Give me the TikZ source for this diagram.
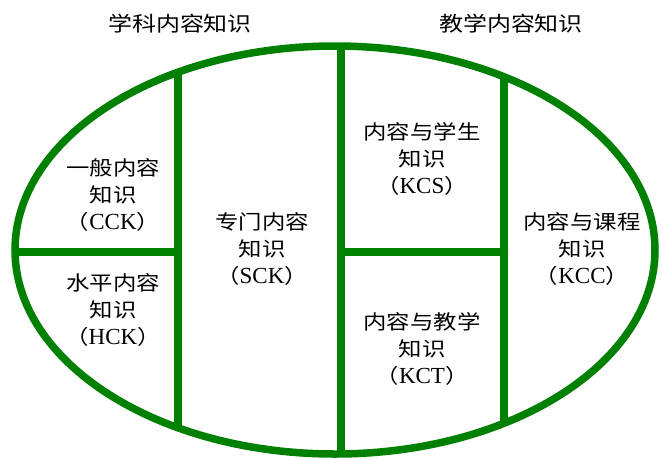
\documentclass[tikz,border=0pt]{standalone}
\usepackage{fontspec}
\setmainfont{Liberation Serif}
\newfontfamily\cjk[FakeStretch=1.17]{Noto Sans CJK SC}
\newfontfamily\latf{Liberation Serif}
\definecolor{kgreen}{RGB}{0,128,0}
\newcommand\lat[1]{{\latf\fontsize{23}{27}\selectfont #1}}
\tikzset{
  wall/.style={draw=kgreen, line width=7.5pt},
  lbl/.style={align=center, font=\cjk\fontsize{20}{27}\selectfont, inner sep=0pt, text=black},
  ttl/.style={font=\cjk\fontsize{20.5}{24}\selectfont, inner sep=0pt, text=black}
}
\begin{document}
\begin{tikzpicture}[x=1pt,y=-1pt]
\useasboundingbox (0,0) rectangle (662,459);
% inner dividing walls, clipped to the ellipse
\begin{scope}
  \clip (335,250) ellipse [x radius=320, y radius=204];
  \draw[wall] (178,0) -- (178,459);
  \draw[wall] (341,0) -- (341,459);
  \draw[wall] (504,0) -- (504,459);
  \draw[wall] (0,252) -- (178,252);
  \draw[wall] (341,252) -- (504,252);
\end{scope}
\draw[wall] (335,250) ellipse [x radius=320, y radius=204];
% titles
\node[ttl] (t1) at (180,24) {学科内容知识};
\node[ttl] (t2) at (511,24) {教学内容知识};
% region labels
\node[lbl] (cck) at (113,195) {一般内容\\知识\\（\lat{CCK}）};
\node[lbl] (hck) at (113,310) {水平内容\\知识\\（\lat{HCK}）};
\node[lbl] (sck) at (262,249) {专门内容\\知识\\（\lat{SCK}）};
\node[lbl] (kcs) at (422,159) {内容与学生\\知识\\（\lat{KCS}）};
\node[lbl] (kct) at (422,349) {内容与教学\\知识\\（\lat{KCT}）};
\node[lbl] (kcc) at (582,249) {内容与课程\\知识\\（\lat{KCC}）};
\end{tikzpicture}
\end{document}
